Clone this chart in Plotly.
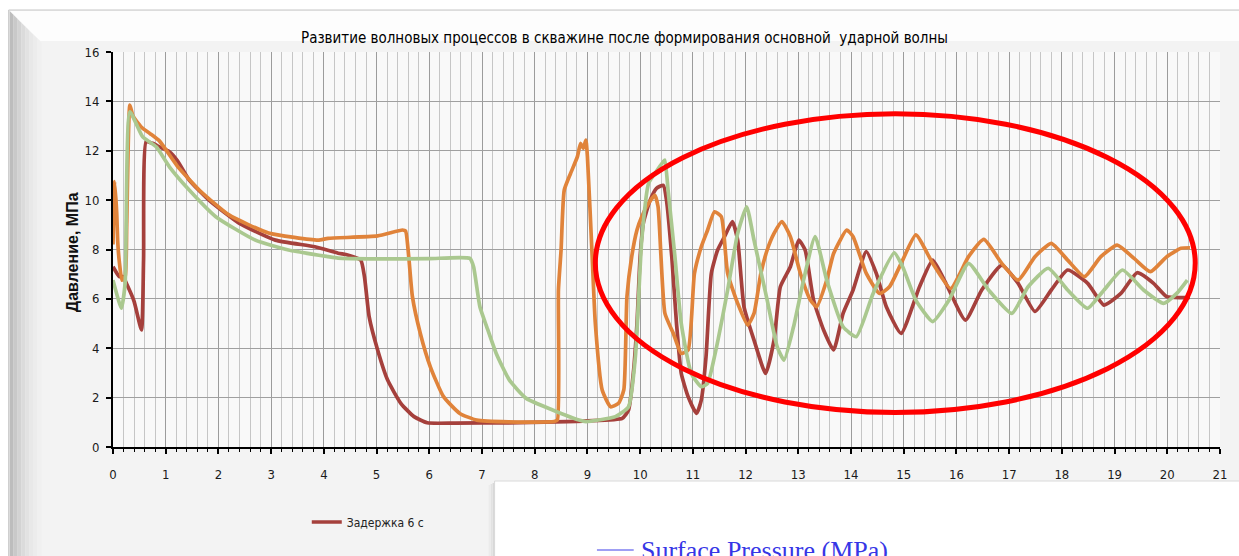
import plotly.graph_objects as go

# ---------------- data ----------------
title_text = "Развитие волновых процессов в скважине после формирования основной  ударной волны"
y_title = "Давление, МПа"
legend_name = "Задержка 6 с"
x_ticks = list(range(0, 22))
y_ticks = list(range(0, 17, 2))

red_t = [0.00, 0.12, 0.19, 0.26, 0.40, 0.54, 0.58, 0.63, 0.75, 0.88, 1.07, 1.22, 1.45, 1.82, 2.39, 3.08,
         3.83, 4.27, 4.45, 4.70, 4.77, 4.86, 5.02, 5.21, 5.46, 5.71, 5.96, 6.50, 7.50, 8.40, 9.00, 9.66,
         9.78, 9.87, 9.94, 10.00, 10.06, 10.19, 10.31, 10.44, 10.50, 10.60, 10.69, 10.78, 10.91, 11.07,
         11.16, 11.25, 11.35, 11.47, 11.60, 11.75, 11.85, 11.97, 12.16, 12.38, 12.54, 12.66, 12.85, 13.01,
         13.13, 13.29, 13.48, 13.67, 13.85, 14.04, 14.29, 14.48, 14.67, 14.95, 15.30, 15.55, 15.80, 16.17,
         16.48, 16.86, 17.17, 17.49, 17.80, 18.11, 18.49, 18.80, 19.12, 19.43, 19.74, 19.99, 20.43]
red_p = [7.3, 6.9, 6.9, 6.6, 5.9, 4.74, 7.6, 12.37, 12.3, 12.16, 11.96, 11.6, 10.8, 10.0, 9.07, 8.38,
         8.11, 7.85, 7.78, 7.57, 6.9, 5.27, 3.93, 2.71, 1.77, 1.23, 0.98, 0.97, 0.98, 1.02, 1.06, 1.16,
         1.5, 2.98, 5.0, 7.71, 9.06, 10.0, 10.48, 10.6, 10.0, 7.71, 5.0, 2.98, 2.04, 1.36,
         1.9, 3.66, 7.03, 7.98, 8.52, 9.13, 8.38, 5.68, 4.33, 2.98, 4.33, 6.49, 7.3, 8.38,
         7.98, 5.95, 4.74, 3.93, 5.41, 6.36, 7.91, 7.03, 5.68, 4.6, 6.49, 7.57, 6.63, 5.14,
         6.36, 7.37, 6.63, 5.49, 6.36, 7.17, 6.63, 5.75, 6.22, 7.06, 6.63, 6.09, 6.06]

orange_t = [0.00, 0.03, 0.07, 0.09, 0.12, 0.17, 0.23, 0.26, 0.32, 0.38, 0.54, 0.70, 0.88, 1.22, 1.64, 2.20,
            2.95, 3.89, 4.08, 5.02, 5.49, 5.55, 5.61, 5.68, 5.83, 6.02, 6.27, 6.58, 6.90, 7.50, 8.37, 8.43,
            8.45, 8.50, 8.56, 8.68, 8.81, 8.87, 8.92, 8.97, 9.00, 9.09, 9.15, 9.28, 9.44, 9.59, 9.69, 9.75,
            9.84, 9.94, 10.03, 10.16, 10.28, 10.34, 10.47, 10.63, 10.78, 10.91, 11.03, 11.16, 11.28, 11.41,
            11.54, 11.66, 11.85, 12.04, 12.16, 12.29, 12.41, 12.54, 12.69, 12.85, 13.04, 13.23, 13.35, 13.54,
            13.67, 13.92, 14.04, 14.29, 14.54, 14.73, 14.98, 15.23, 15.55, 15.89, 16.23, 16.52, 16.86, 17.17,
            17.49, 17.80, 18.11, 18.43, 18.74, 19.05, 19.37, 19.68, 19.99, 20.26, 20.43]
orange_p = [8.2, 10.75, 9.5, 8.3, 7.5, 6.76, 6.9, 9.0, 13.85, 13.4, 12.95, 12.7, 12.4, 11.38, 10.4, 9.4,
            8.67, 8.38, 8.45, 8.55, 8.79, 8.75, 7.71, 6.09, 4.6, 3.25, 2.04, 1.36, 1.09, 1.02, 1.03, 1.09,
            6.36, 7.98, 10.4, 11.08, 11.76, 12.3, 12.1, 12.43, 11.76, 7.71, 5.0, 2.31, 1.63, 1.77, 2.31, 6.09,
            7.71, 8.79, 9.33, 9.87, 10.2, 9.73, 5.41, 4.6, 3.79, 3.93, 7.03, 8.11, 8.79, 9.53,
            9.33, 7.03, 5.82, 4.94, 5.41, 7.03, 7.98, 8.65, 9.13, 8.52, 7.03, 5.95, 5.68, 6.76,
            7.84, 8.79, 8.52, 7.03, 6.22, 6.49, 7.57, 8.59, 7.44, 6.42, 7.71, 8.41, 7.44, 6.76,
            7.71, 8.25, 7.57, 6.9, 7.71, 8.18, 7.64, 7.1, 7.71, 8.05, 8.07]

green_t = [0.00, 0.16, 0.23, 0.32, 0.56, 0.82, 1.07, 1.45, 1.95, 2.70, 3.33, 4.08, 4.27, 5.00, 6.00, 6.77,
           6.84, 6.96, 7.09, 7.27, 7.52, 7.84, 8.34, 8.84, 8.97, 9.53, 9.78, 9.91, 10.03, 10.16, 10.28,
           10.44, 10.47, 10.53, 10.66, 10.78, 10.97, 11.16, 11.28, 11.41, 11.66, 11.85, 12.02, 12.16, 12.41,
           12.60, 12.73, 12.91, 13.10, 13.32, 13.54, 13.85, 14.10, 14.42, 14.82, 14.98, 15.23, 15.55, 15.86,
           16.23, 16.61, 17.05, 17.36, 17.74, 18.11, 18.49, 18.80, 19.15, 19.55, 19.93, 20.18, 20.38]
green_p = [6.76, 5.62, 6.63, 13.58, 12.57, 12.16, 11.35, 10.4, 9.33, 8.38, 7.98, 7.71, 7.65, 7.62, 7.63, 7.64,
           7.3, 5.68, 4.87, 3.79, 2.71, 1.97, 1.5, 1.09, 1.03, 1.23, 1.63, 3.66, 8.38, 10.68, 11.08,
           11.56, 11.62, 10.4, 7.71, 5.0, 2.98, 2.44, 2.58, 3.66, 6.36, 8.65, 9.73, 8.38, 5.95,
           4.06, 3.52, 4.87, 6.76, 8.52, 6.76, 4.87, 4.47, 6.22, 7.86, 7.3, 5.95, 5.08, 5.95,
           7.44, 6.36, 5.41, 6.49, 7.24, 6.36, 5.62, 6.36, 7.17, 6.36, 5.82, 6.22, 6.76]

# ---------------- geometry helpers (pixel -> paper) ----------------
W, H = 1239, 556
PL, PR, PT, PB = 113, 1227, 52, 447


def px(X):
    return (X - PL) / (PR - PL)


def py(Y):
    return (PB - Y) / (PB - PT)


def rect(x0, y0, x1, y1, fill, line=None, lw=0, layer="below"):
    return dict(type="rect", xref="paper", yref="paper", x0=px(x0), x1=px(x1), y0=py(y1), y1=py(y0),
                fillcolor=fill, line=dict(color=line or fill, width=lw), layer=layer)


def poly(pts, fill, layer="below"):
    path = "M " + " L ".join(f"{px(a)},{py(b)}" for a, b in pts) + " Z"
    return dict(type="path", xref="paper", yref="paper", path=path, fillcolor=fill,
                line=dict(width=0), layer=layer)


shapes = []
# frame face
shapes.append(rect(8, 10, 1250, 566, "#f3f3f3", "#c6c6c6", 1))
# top bevel
shapes.append(poly([(9, 11), (1250, 11), (1250, 41), (40, 41)], "#fdfdfd"))
# left bevel gradient
bevel_cols = ["#bdbdbd", "#c9c9c9", "#d3d3d3", "#dbdbdb", "#e2e2e2", "#e8e8e8", "#ececec", "#f0f0f0"]
for i, c in enumerate(bevel_cols):
    a, b = 9 + i * 4, 13 + i * 4
    shapes.append(poly([(a, 11 + (a - 9)), (b, 11 + (b - 9)), (b, 566), (a, 566)], c))
# plot area background
shapes.append(dict(type="rect", xref="paper", yref="paper", x0=0, x1=1, y0=0, y1=1,
                   fillcolor="#f9f9f9", line=dict(width=0), layer="below"))
# bottom-right overlapping picture (white) with left shadow
for i, c in enumerate(["#d8d8d8", "#e2e2e2", "#ebebeb"]):
    shapes.append(rect(497 - i * 2 - 2, 483 + i, 497 - i * 2, 566, c))
shapes.append(rect(497, 481, 1250, 566, "#ffffff", "#dadada", 1))
# blue legend line of the overlapping picture
shapes.append(dict(type="line", xref="paper", yref="paper", x0=px(600), x1=px(637), y0=py(550), y1=py(550),
                   line=dict(color="#7f7ff0", width=1.5), layer="above"))
# red ellipse annotation
shapes.append(dict(type="circle", xref="x", yref="y", x0=9.15, x1=20.53, y0=1.4, y1=13.5,
                   line=dict(color="#ff0000", width=5), layer="above"))

fig = go.Figure()
line_style = dict(width=3.7, shape="spline", smoothing=0.5)
fig.add_trace(go.Scatter(x=red_t, y=red_p, mode="lines", name=legend_name,
                         line=dict(color="#a5403c", **line_style), showlegend=True))
fig.add_trace(go.Scatter(x=orange_t, y=orange_p, mode="lines", name="orange",
                         line=dict(color="#e0833a", **line_style), showlegend=False))
fig.add_trace(go.Scatter(x=green_t, y=green_p, mode="lines", name="green",
                         line=dict(color="#aac88f", **line_style), showlegend=False))

narrow = "Liberation Sans Narrow, DejaVu Sans Condensed, Arial Narrow, sans-serif"

annotations = [
    dict(text=title_text, xref="paper", yref="paper", x=px(628), y=py(38), showarrow=False,
         font=dict(family=narrow, size=15, color="#000000"), xanchor="center", yanchor="middle"),
    dict(text="<b>" + y_title + "</b>", xref="paper", yref="paper", x=px(72), y=py(252), showarrow=False,
         textangle=-90, font=dict(family="Liberation Sans, Arial, sans-serif", size=16, color="#111111"),
         xanchor="center", yanchor="middle"),
    dict(text="Surface Pressure (MPa)", xref="paper", yref="paper", x=px(642), y=py(550), showarrow=False,
         font=dict(family="Liberation Serif, Times New Roman, serif", size=26, color="#3636e6"),
         xanchor="left", yanchor="middle"),
]

fig.update_layout(
    width=W, height=H,
    margin=dict(l=PL, r=W - PR, t=PT, b=H - PB, pad=0),
    paper_bgcolor="#ffffff", plot_bgcolor="rgba(0,0,0,0)",
    shapes=shapes, annotations=annotations,
    showlegend=True,
    legend=dict(x=px(308), y=py(522), xanchor="left", yanchor="middle", bgcolor="rgba(0,0,0,0)",
                font=dict(family=narrow, size=12, color="#222222"), itemwidth=30),
    xaxis=dict(range=[0, 21], tickmode="array", tickvals=x_ticks, ticktext=[str(v) for v in x_ticks],
               showgrid=True, gridcolor="#9c9c9c", gridwidth=1,
               showline=True, linecolor="#000000", linewidth=2, ticks="outside", ticklen=5,
               tickcolor="#000000", tickwidth=1.5, ticklabelstandoff=9,
               tickfont=dict(family=narrow, size=13, color="#1a1a1a"),
               minor=dict(dtick=0.2, showgrid=True, gridcolor="#c6c6c6", gridwidth=1,
                          ticks="outside", ticklen=3, tickcolor="#000000", tickwidth=1),
               zeroline=False, fixedrange=True),
    yaxis=dict(range=[0, 16], tickmode="array", tickvals=y_ticks, ticktext=[str(v) for v in y_ticks],
               showgrid=True, gridcolor="#a0a0a0", gridwidth=1.2,
               showline=True, linecolor="#000000", linewidth=2, ticks="outside", ticklen=5,
               tickcolor="#000000", tickwidth=1.5, ticklabelstandoff=4,
               tickfont=dict(family=narrow, size=13, color="#1a1a1a"),
               zeroline=False, fixedrange=True),
)

fig.write_html("out.html", config={"displayModeBar": False},
               post_script="document.body.style.margin='0';document.body.style.padding='0';")
